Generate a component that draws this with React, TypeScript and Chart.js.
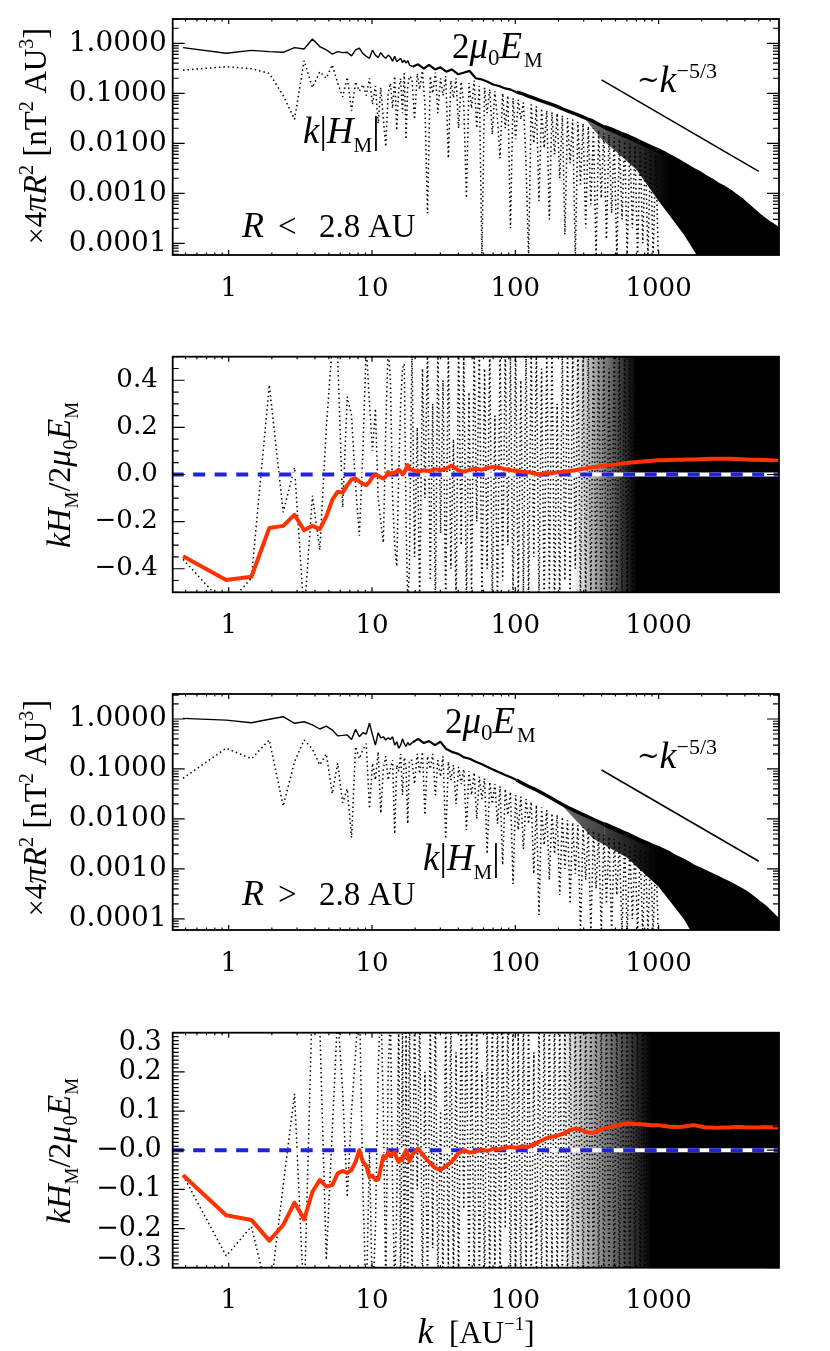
import React, { useEffect, useRef } from "react";
import { Chart, registerables } from "chart.js";
Chart.register(...registerables);

// ---------- shared k grids ----------
const K_LOW = [0.48, 0.96, 1.44, 1.92, 2.40, 2.88, 3.36, 3.84, 4.32, 4.80, 5.28, 5.76, 6.24, 6.72, 7.20, 7.68, 8.16, 8.64, 9.12, 9.60, 10.08, 10.56, 11.04, 11.52, 12.00, 12.48, 12.96, 13.44, 13.92, 14.40, 14.88, 15.36, 15.84, 16.32, 16.80, 17.28, 17.76, 18.24];
const K_HIGH = [19.2, 21, 23, 25, 27.5, 30, 33, 36, 40, 44, 48, 53, 58, 64, 70, 77, 85, 93, 102, 112, 123, 135, 148, 163, 179, 197, 216, 238, 261, 287, 316, 347, 382, 420, 462, 508, 559, 615, 676, 744, 818, 900, 990, 1089, 1198, 1318, 1450, 1595, 1754, 1930, 2123, 2335, 2569, 2825, 3108, 3419, 3761, 4137, 4550, 5005, 5506, 6057, 6662, 7000];
const K_MID = [19.0, 19.8, 20.7, 21.5, 22.5, 23.4, 24.4, 25.5, 26.5, 27.7, 28.8, 30.1, 31.3, 32.7, 34.1, 35.5, 37.0, 38.6, 40.2, 41.9, 43.7, 45.6, 47.5, 49.5, 51.6, 53.8, 56.1, 58.5, 61.0, 63.6, 66.3, 69.1, 72.0, 75.1, 78.3, 81.6, 85.1, 88.7, 92.5, 96.4, 100.5, 104.8, 109.3, 113.9, 118.8, 123.8, 129.1, 134.6, 140.3, 146.3, 152.5, 159.0, 165.8, 172.8, 180.2, 187.9, 195.9, 204.2, 212.9, 221.9, 231.4, 241.2, 251.5, 262.2, 273.4, 285.0, 297.1, 309.8, 323.0, 336.7, 351.0, 366.0, 381.6, 397.8, 414.8, 432.4, 450.8, 470.0, 490.0, 510.9, 532.6, 555.3, 578.9, 603.6, 629.3, 656.0, 684.0, 713.1, 743.4, 775.1, 808.0, 842.4, 878.3, 915.7, 954.7, 995.3];
const K_REF = [400, 5000];
const K_ZERO = [0.4, 7000];
const ZERO = [0, 0];

const K_MIN = 0.4066;
const K_MAX = 6920;
const X_TICKS = [1, 10, 100, 1000];
const X_LABELS = ["1", "10", "100", "1000"];

// ---------- panel 1 (R < 2.8 AU spectra) ----------
const E1_LOW = [0.82, 0.63, 0.72, 0.68, 0.66, 0.82, 0.77, 1.22, 0.86, 0.74, 0.61, 0.68, 0.65, 0.66, 0.56, 0.74, 0.80, 0.62, 0.55, 0.50, 0.73, 0.58, 0.52, 0.65, 0.55, 0.50, 0.58, 0.53, 0.44, 0.55, 0.43, 0.46, 0.50, 0.41, 0.46, 0.40, 0.45, 0.37];
const E1_HIGH = [0.34, 0.38, 0.31, 0.37, 0.30, 0.33, 0.27, 0.30, 0.24, 0.26, 0.28, 0.20, 0.19, 0.17, 0.15, 0.14, 0.125, 0.118, 0.105, 0.098, 0.088, 0.080, 0.072, 0.066, 0.060, 0.054, 0.048, 0.043, 0.039, 0.035, 0.031, 0.028, 0.024, 0.021, 0.019, 0.017, 0.015, 0.0135, 0.012, 0.0105, 0.0092, 0.0081, 0.0072, 0.0063, 0.0054, 0.0047, 0.0040, 0.0034, 0.0029, 0.0025, 0.0021, 0.0018, 0.0015, 0.0013, 0.0011, 0.00090, 0.00074, 0.00058, 0.00046, 0.00036, 0.00029, 0.00024, 0.00020, 0.00018];
const H1_LOW = [0.29, 0.34, 0.31, 0.25, 0.09, 0.03, 0.45, 0.13, 0.27, 0.20, 0.37, 0.16, 0.085, 0.21, 0.045, 0.17, 0.11, 0.15, 0.09, 0.20, 0.06, 0.14, 0.025, 0.13, 0.03, 0.0085, 0.10, 0.16, 0.05, 0.22, 0.018, 0.12, 0.20, 0.04, 0.25, 0.012, 0.14, 0.22];
const H1_MID = [0.20, 0.03, 0.25, 0.12, 0.28, 0.06, 0.0004, 0.22, 0.10, 0.26,
  0.04, 0.20, 0.09, 0.22, 0.005, 0.18, 0.08, 0.20, 0.02, 0.17,
  0.06, 0.0008, 0.16, 0.05, 0.18, 0.02, 0.14, 0.00005, 0.13, 0.04,
  0.12, 0.015, 0.11, 0.03, 0.005, 0.10, 0.02, 0.09, 0.0002, 0.08,
  0.012, 0.075, 0.03, 0.065, 0.004, 0.00005, 0.06, 0.01, 0.055, 0.0007,
  0.05, 0.008, 0.045, 0.0003, 0.042, 0.006, 0.04, 0.002, 0.036, 0.00015,
  0.032, 0.004, 0.030, 0.00005, 0.027, 0.0015, 0.025, 0.0002, 0.022, 0.0006,
  0.020, 0.00005, 0.018, 0.0008, 0.016, 0.00012, 0.015, 0.0004, 0.013, 0.00005,
  0.012, 0.0003, 0.011, 0.00005, 0.010, 0.0002, 0.009, 0.00005, 0.008, 0.0001,
  0.0075, 0.00005, 0.0068, 0.00005, 0.006, 0.00005];
const K_FILL1 = [300, 400, 500, 700, 1000, 1500, 2000, 7000];
const FILL1_LO = [0.033, 0.012, 0.007, 0.003, 0.0007, 0.00015, 0.00004, 0.00004];
const REF1 = [0.185, 0.00275];

// ---------- panel 2 (R < 2.8 AU ratio) ----------
const R2_LOW = [-0.347, -0.448, -0.434, -0.227, -0.218, -0.171, -0.237, -0.218, -0.232, -0.178, -0.108, -0.073, -0.077, -0.045, -0.021, -0.017, -0.030, -0.040, -0.045, -0.031, -0.010, 0.000, -0.005, -0.012, -0.017, -0.008, 0.010, 0.002, 0.008, 0.005, 0.015, 0.020, 0.012, 0.000, 0.008, 0.025, 0.040, 0.022];
const R2_HIGH = [0.020, 0.012, 0.018, 0.015, 0.022, 0.018, 0.025, 0.038, 0.018, 0.012, 0.020, 0.024, 0.020, 0.028, 0.032, 0.030, 0.022, 0.018, 0.016, 0.012, 0.010, 0.004, 0.000, 0.006, 0.004, 0.010, 0.012, 0.015, 0.018, 0.022, 0.027, 0.031, 0.034, 0.037, 0.040, 0.043, 0.047, 0.050, 0.052, 0.054, 0.056, 0.058, 0.060, 0.061, 0.062, 0.063, 0.063, 0.064, 0.064, 0.065, 0.066, 0.067, 0.067, 0.067, 0.067, 0.066, 0.065, 0.064, 0.063, 0.063, 0.062, 0.060, 0.058, 0.057];
const D2_LOW = [-0.36, -0.56, -0.44, 0.38, -0.16, 0.03, -0.60, -0.09, -0.32, 0.20, 0.55, 0.50, -0.14, 0.33, 0.25, -0.05, -0.26, 0.10, 0.55, 0.30, 0.10, 0.28, -0.10, -0.20, -0.29, 0.20, 0.55, 0.40, -0.10, -0.30, -0.39, 0.00, 0.30, 0.45, 0.47, -0.20, -0.55, -0.40];
const D2_MID = [0.55, -0.35, 0.2, -0.55, 0.45, -0.1, 0.55, -0.45, 0.3, -0.55,
  0.55, -0.25, 0.4, -0.55, 0.55, -0.4, 0.15, -0.55, 0.55, -0.3,
  0.5, -0.55, 0.35, -0.5, 0.55, -0.2, 0.55, -0.55, 0.45, -0.4,
  0.55, -0.55, 0.25, -0.55, 0.55, -0.45, 0.55, -0.3, 0.5, -0.55,
  0.55, -0.55, 0.4, -0.5, 0.55, -0.55, 0.55, -0.35, 0.55, -0.55,
  0.45, -0.55, 0.55, -0.5, 0.55, -0.55, 0.3, -0.55, 0.55, -0.45,
  0.55, -0.55, 0.55, -0.4, 0.55, -0.55, 0.5, -0.55, 0.55, -0.55,
  0.55, -0.5, 0.55, -0.55, 0.55, -0.55, 0.45, -0.55, 0.55, -0.55,
  0.55, -0.55, 0.55, -0.5, 0.55, -0.55, 0.55, -0.55, 0.55, -0.55,
  0.55, -0.55, 0.55, -0.55, 0.55, -0.55];
const K_FILL2 = [250, 7000];
const FILL2_UP = [0.55, 0.55];
const FILL2_LO = [-0.55, -0.55];

// ---------- panel 3 (R > 2.8 AU spectra) ----------
const E3_LOW = [1.03, 0.95, 0.84, 0.99, 1.11, 0.82, 0.88, 0.76, 0.63, 0.72, 0.60, 0.46, 0.47, 0.48, 0.39, 0.62, 0.44, 0.53, 0.50, 0.82, 0.48, 0.30, 0.53, 0.42, 0.44, 0.38, 0.42, 0.39, 0.44, 0.30, 0.35, 0.26, 0.30, 0.40, 0.32, 0.28, 0.34, 0.30];
const E3_HIGH = [0.34, 0.40, 0.33, 0.36, 0.30, 0.35, 0.25, 0.22, 0.20, 0.17, 0.16, 0.14, 0.125, 0.11, 0.097, 0.086, 0.076, 0.068, 0.060, 0.052, 0.045, 0.040, 0.035, 0.030, 0.026, 0.022, 0.019, 0.0165, 0.0145, 0.0128, 0.0113, 0.0100, 0.0088, 0.0078, 0.0069, 0.0061, 0.0054, 0.0048, 0.0042, 0.0037, 0.0033, 0.0029, 0.0026, 0.0023, 0.0020, 0.0017, 0.0015, 0.0013, 0.0011, 0.00098, 0.00086, 0.00075, 0.00066, 0.00058, 0.00051, 0.00044, 0.00038, 0.00032, 0.00026, 0.00021, 0.00017, 0.00013, 0.00010, 0.000085];
const H3_LOW = [0.065, 0.26, 0.16, 0.38, 0.018, 0.14, 0.38, 0.25, 0.12, 0.20, 0.032, 0.13, 0.021, 0.04, 0.0042, 0.28, 0.16, 0.24, 0.32, 0.016, 0.13, 0.06, 0.22, 0.013, 0.10, 0.18, 0.06, 0.10, 0.15, 0.005, 0.12, 0.09, 0.20, 0.03, 0.17, 0.11, 0.008, 0.15];
const H3_MID = [0.15, 0.05, 0.2, 0.08, 0.22, 0.012, 0.18, 0.1, 0.2, 0.03,
  0.15, 0.07, 0.18, 0.004, 0.14, 0.06, 0.12, 0.02, 0.11, 0.05,
  0.1, 0.006, 0.09, 0.03, 0.085, 0.01, 0.07, 0.025, 0.065, 0.002,
  0.055, 0.02, 0.05, 0.008, 0.045, 0.0012, 0.04, 0.012, 0.035, 0.0005,
  0.03, 0.006, 0.028, 0.0025, 0.025, 0.008, 0.022, 0.0008, 0.019, 0.00012,
  0.017, 0.003, 0.015, 0.0006, 0.013, 0.002, 0.012, 0.0003, 0.011, 0.001,
  0.0095, 0.0002, 0.0085, 0.0008, 0.0075, 0.00005, 0.007, 0.0006, 0.0063, 0.00005,
  0.0058, 0.0004, 0.0052, 0.00005, 0.0048, 0.0002, 0.0044, 0.00005, 0.004, 0.0003,
  0.0036, 0.00005, 0.0033, 0.00005, 0.003, 0.0001, 0.0028, 0.00005, 0.0025, 0.00005,
  0.0023, 0.00005, 0.0021, 0.00005, 0.0019, 0.00005];
const K_FILL3 = [200, 350, 600, 1000, 1500, 1800, 7000];
const FILL3_LO = [0.022, 0.004, 0.0017, 0.00044, 0.0001, 0.00004, 0.00004];
const REF3 = [0.0955, 0.00142];

// ---------- panel 4 (R > 2.8 AU ratio) ----------
const R4_LOW = [-0.064, -0.166, -0.178, -0.231, -0.191, -0.134, -0.177, -0.106, -0.076, -0.093, -0.089, -0.059, -0.053, -0.058, -0.050, -0.030, 0.000, -0.030, -0.040, -0.068, -0.065, -0.076, -0.075, -0.045, -0.015, -0.020, -0.005, -0.015, -0.010, -0.005, -0.020, -0.030, -0.022, -0.025, -0.010, 0.000, -0.012, -0.028];
const R4_HIGH = [-0.010, 0.004, -0.015, -0.030, -0.045, -0.050, -0.040, -0.030, -0.008, 0.000, -0.006, -0.004, 0.002, -0.002, 0.004, 0.002, 0.006, 0.008, 0.006, 0.010, 0.008, 0.015, 0.022, 0.030, 0.034, 0.037, 0.042, 0.050, 0.055, 0.052, 0.046, 0.044, 0.050, 0.056, 0.059, 0.063, 0.066, 0.068, 0.067, 0.066, 0.065, 0.064, 0.064, 0.062, 0.060, 0.059, 0.060, 0.062, 0.064, 0.061, 0.058, 0.058, 0.057, 0.058, 0.058, 0.059, 0.059, 0.058, 0.058, 0.058, 0.059, 0.058, 0.058, 0.058];
const D4_LOW = [-0.064, -0.27, -0.195, -0.385, -0.09, 0.144, -0.40, 0.40, 0.32, -0.28, 0.05, 0.35, 0.15, -0.12, 0.10, 0.25, 0.40, -0.10, -0.40, 0.00, -0.40, -0.20, 0.20, 0.40, 0.10, -0.35, 0.20, 0.35, -0.10, -0.35, -0.15, 0.35, -0.35, 0.35, -0.40, 0.30, -0.35, 0.40];
const D4_MID = [-0.35, 0.35, -0.1, 0.35, -0.35, 0.2, -0.35, 0.35, -0.25, 0.35,
  -0.35, 0.1, -0.35, 0.35, -0.3, 0.35, -0.35, 0.25, -0.35, 0.35,
  -0.15, 0.35, -0.35, 0.3, -0.35, 0.35, -0.35, 0.2, -0.35, 0.35,
  -0.35, 0.35, -0.3, 0.35, -0.35, 0.35, -0.2, 0.35, -0.35, 0.35,
  -0.35, 0.3, -0.35, 0.35, -0.35, 0.35, -0.35, 0.25, -0.35, 0.35,
  -0.35, 0.35, -0.35, 0.35, -0.3, 0.35, -0.35, 0.35, -0.35, 0.35,
  -0.35, 0.35, -0.35, 0.35, -0.35, 0.3, -0.35, 0.35, -0.35, 0.35,
  -0.35, 0.35, -0.35, 0.35, -0.35, 0.35, -0.35, 0.35, -0.35, 0.35,
  -0.35, 0.35, -0.35, 0.35, -0.35, 0.35, -0.35, 0.35, -0.35, 0.35,
  -0.35, 0.35, -0.35, 0.35, -0.35, 0.35];
const K_FILL4 = [200, 7000];
const FILL4_UP = [0.35, 0.35];
const FILL4_LO = [-0.35, -0.35];

// ---------- tick labels ----------
const LOG_Y_TICKS = [1, 0.1, 0.01, 0.001, 0.0001];
const LOG_Y_LABELS = ["1.0000", "0.1000", "0.0100", "0.0010", "0.0001"];
const R2_Y_TICKS = [0.4, 0.2, 0, -0.2, -0.4];
const R2_Y_LABELS = ["0.4", "0.2", "0.0", "\u22120.2", "\u22120.4"];
const R4_Y_TICKS = [0.3, 0.2, 0.1, 0, -0.1, -0.2, -0.3];
const R4_Y_LABELS = ["0.3", "0.2", "0.1", "\u22120.0", "\u22120.1", "\u22120.2", "\u22120.3"];

// ---------- styling ----------
const DV = '"DejaVu Serif", serif';
const LS = '"Liberation Serif", "Times New Roman", serif';
const RED = "#ff3300";
const BLUE = "#2222dd";
const fnt = (s: number, it = false, fam = DV) => `${it ? "italic " : ""}${s}px ${fam}`;

type Seg = [string, string, number?];

function richWidth(ctx: CanvasRenderingContext2D, segs: Seg[]) {
  let w = 0;
  for (const s of segs) { ctx.font = s[1]; w += ctx.measureText(s[0]).width; }
  return w;
}
function rich(ctx: CanvasRenderingContext2D, segs: Seg[], x: number, y: number, align = "left") {
  ctx.textAlign = "left";
  ctx.textBaseline = "alphabetic";
  let cx = x;
  if (align === "center") cx -= richWidth(ctx, segs) / 2;
  for (const [t, f, dy] of segs) {
    ctx.font = f;
    ctx.fillText(t, cx, y + (dy || 0));
    cx += ctx.measureText(t).width;
  }
}
function richV(ctx: CanvasRenderingContext2D, segs: Seg[], x: number, y: number) {
  ctx.save();
  ctx.translate(x, y);
  ctx.rotate(-Math.PI / 2);
  rich(ctx, segs, 0, 0, "center");
  ctx.restore();
}

const SPEC_TITLE: Seg[] = [["\u00d7", fnt(30, false, LS)], ["4", fnt(31, false, LS)], ["\u03c0", fnt(33, true, LS)], ["R", fnt(33, true, LS)], ["2", fnt(20, false, LS), -13], [" [", fnt(33, false, LS)], ["nT", fnt(31, false, LS)], ["2", fnt(20, false, LS), -13], [" AU", fnt(31, false, LS)], ["3", fnt(20, false, LS), -13], ["]", fnt(33, false, LS)]];
const RATIO_TITLE: Seg[] = [["k", fnt(34, true, LS)], ["H", fnt(34, true, LS)], ["M", fnt(19, false, LS), 8], ["/", fnt(32, false, LS)], ["2", fnt(32, false, LS)], ["\u03bc", fnt(34, true, LS)], ["0", fnt(20, false, LS), 7], ["E", fnt(34, true, LS)], ["M", fnt(19, false, LS), 8]];
const EM_LABEL: Seg[] = [["2", fnt(35, false, LS)], ["\u03bc", fnt(37, true, LS)], ["0", fnt(23, false, LS), 7], ["E", fnt(37, true, LS)], [" ", fnt(6)], ["M", fnt(21, false, LS), 9]];
const SLOPE_LABEL: Seg[] = [["~", fnt(27, false, DV), -3], ["k", fnt(38, true, LS)], ["\u22125/3", fnt(22, false, LS), -14]];
const HM_LABEL: Seg[] = [["k", fnt(37, true, LS)], ["|", fnt(37, false, LS)], ["H", fnt(37, true, LS)], ["M", fnt(21, false, LS), 9], ["|", fnt(37, false, LS)]];
const X_TITLE: Seg[] = [["k", fnt(36, true, LS)], ["  [", fnt(31, false, LS)], ["AU", fnt(31, false, LS)], ["\u22121", fnt(19, false, LS), -13], ["]", fnt(31, false, LS)]];

function radiusLabel(ctx: CanvasRenderingContext2D, sym: string, y: number) {
  ctx.textAlign = "left";
  ctx.textBaseline = "alphabetic";
  ctx.font = fnt(36, true, LS); ctx.fillText("R", 242, y);
  ctx.font = fnt(33, false, LS); ctx.fillText(sym, 278, y);
  ctx.fillText("2.8", 319, y);
  ctx.fillText("AU", 368, y);
}

function logTicks(min: number, max: number) {
  const out: [number, boolean][] = [];
  for (let e = -6; e <= 4; e++) for (let m = 1; m <= 9; m++) {
    const v = m * Math.pow(10, e);
    if (v >= min && v <= max) out.push([v, m === 1]);
  }
  return out;
}
function linTicks(step: number, every: number, min: number, max: number) {
  const out: [number, boolean][] = [];
  for (let i = Math.ceil(min / step - 1e-6); i <= Math.floor(max / step + 1e-6); i++) out.push([i * step, i % every === 0]);
  return out;
}

// horizontal fade-in for the dense (unresolvable) high-k region
function fade(kStart: number, kEnd: number, a0: number) {
  return (c: any) => {
    const chart = c.chart;
    const area = chart.chartArea;
    const xs = chart.scales && chart.scales.x;
    if (!area || !xs) return "#000";
    const g = chart.ctx.createLinearGradient(xs.getPixelForValue(kStart), 0, xs.getPixelForValue(kEnd), 0);
    g.addColorStop(0, `rgba(0,0,0,${a0})`);
    g.addColorStop(1, "rgba(0,0,0,1)");
    return g;
  };
}

const pts = (xs: number[], ys: number[]) => xs.map((x, i) => ({ x, y: ys[i] }));
const base = (d: any) => ({ clip: 0, pointRadius: 0, borderJoinStyle: "bevel", tension: 0, ...d });

function spectrumSets(eLow: number[], eHigh: number[], hLow: number[], hMid: number[], kFill: number[], fillLo: number[], ref: number[], f0: number, f1: number) {
  const kE = [...K_LOW, ...K_HIGH];
  return [
    { data: pts(K_REF, ref), borderColor: "#000", borderWidth: 1.6 },
    {
      data: pts(kE, [...eLow, ...eHigh]), borderColor: "#000", borderWidth: 1.4,
      segment: { borderWidth: (c: any) => { const k = kE[c.p0DataIndex]; return k < 19 ? 1.4 : k < 100 ? 2.2 : k < 400 ? 3.4 : 4.6; } },
    },
    { data: pts([...K_LOW, ...K_MID], [...hLow, ...hMid]), borderColor: "#000", borderWidth: 1.5, borderDash: [1.5, 3] },
    { data: pts(kFill, fillLo), borderColor: "rgba(0,0,0,0)", borderWidth: 0, fill: { target: 1 }, backgroundColor: fade(f0, f1, 0.55) },
  ].map(base);
}
function ratioSets(rLow: number[], rHigh: number[], dLow: number[], dMid: number[], kFill: number[], up: number[], lo: number[], f0: number, f1: number) {
  return [
    { data: pts([...K_LOW, ...K_HIGH], [...rLow, ...rHigh]), borderColor: RED, borderWidth: 4, borderJoinStyle: "round" },
    { data: pts(K_ZERO, ZERO), borderColor: BLUE, borderWidth: 4, borderDash: [12, 9.5] },
    { data: pts(K_ZERO, ZERO), borderColor: "#fff", borderWidth: 4 },
    { data: pts([...K_LOW, ...K_MID], [...dLow, ...dMid]), borderColor: "#000", borderWidth: 1.5, borderDash: [1.5, 3] },
    { data: pts(kFill, lo), borderColor: "rgba(0,0,0,0)", borderWidth: 0, fill: "+1", backgroundColor: fade(f0, f1, 0) },
    { data: pts(kFill, up), borderColor: "rgba(0,0,0,0)", borderWidth: 0 },
  ].map(base);
}

interface Spec {
  top: number; height: number; pad: any;
  y: any; yTicks: [number, boolean][]; yVals: number[]; yLabels: string[];
  yFont: string; yGap: number; datasets: any[];
  text: (ctx: CanvasRenderingContext2D) => void;
}

const SPECS: Spec[] = [
  {
    top: 0, height: 320, pad: { left: 172.7, right: 51, top: 19, bottom: 65 },
    y: { type: "logarithmic", min: 5.83e-5, max: 3.06 },
    yTicks: logTicks(5.83e-5, 3.06), yVals: LOG_Y_TICKS, yLabels: LOG_Y_LABELS, yFont: fnt(28), yGap: 6,
    datasets: spectrumSets(E1_LOW, E1_HIGH, H1_LOW, H1_MID, K_FILL1, FILL1_LO, REF1, 300, 1200),
    text: (ctx) => {
      richV(ctx, SPEC_TITLE, 46, 136);
      rich(ctx, EM_LABEL, 452, 58);
      rich(ctx, SLOPE_LABEL, 637, 92);
      rich(ctx, HM_LABEL, 303, 143);
      radiusLabel(ctx, "<", 237);
    },
  },
  {
    top: 320, height: 340, pad: { left: 172.7, right: 51, top: 36.7, bottom: 67.7 },
    y: { type: "linear", min: -0.5, max: 0.5 },
    yTicks: linTicks(0.05, 4, -0.5, 0.5), yVals: R2_Y_TICKS, yLabels: R2_Y_LABELS, yFont: fnt(26), yGap: 15,
    datasets: ratioSets(R2_LOW, R2_HIGH, D2_LOW, D2_MID, K_FILL2, FILL2_UP, FILL2_LO, 250, 700),
    text: (ctx) => { richV(ctx, RATIO_TITLE, 70, 155); },
  },
  {
    top: 660, height: 340, pad: { left: 172.7, right: 51, top: 34, bottom: 70 },
    y: { type: "logarithmic", min: 6.0e-5, max: 3.16 },
    yTicks: logTicks(6.0e-5, 3.16), yVals: LOG_Y_TICKS, yLabels: LOG_Y_LABELS, yFont: fnt(28), yGap: 6,
    datasets: spectrumSets(E3_LOW, E3_HIGH, H3_LOW, H3_MID, K_FILL3, FILL3_LO, REF3, 200, 1000),
    text: (ctx) => {
      richV(ctx, SPEC_TITLE, 46, 148);
      rich(ctx, EM_LABEL, 445, 73);
      rich(ctx, SLOPE_LABEL, 637, 108);
      rich(ctx, HM_LABEL, 423, 210);
      radiusLabel(ctx, ">", 245);
    },
  },
  {
    top: 1000, height: 351, pad: { left: 172.7, right: 51, top: 32.7, bottom: 83.3 },
    y: { type: "linear", min: -0.3, max: 0.3 },
    yTicks: linTicks(0.01, 10, -0.3, 0.3), yVals: R4_Y_TICKS, yLabels: R4_Y_LABELS, yFont: fnt(27), yGap: 11,
    datasets: ratioSets(R4_LOW, R4_HIGH, D4_LOW, D4_MID, K_FILL4, FILL4_UP, FILL4_LO, 200, 900),
    text: (ctx) => {
      richV(ctx, RATIO_TITLE, 70, 151);
      rich(ctx, X_TITLE, 476, 343, "center");
    },
  },
];

function decorate(chart: any, spec: Spec) {
  const { ctx, chartArea: a } = chart;
  const xs = chart.scales.x, ys = chart.scales.y;
  ctx.save();
  ctx.strokeStyle = "#000";
  ctx.lineWidth = 1.2;
  ctx.beginPath();
  for (const [v, maj] of logTicks(K_MIN, K_MAX)) {
    const p = xs.getPixelForValue(v);
    const L = maj ? 5 : 2.5;
    ctx.moveTo(p, a.bottom); ctx.lineTo(p, a.bottom - L);
    ctx.moveTo(p, a.top); ctx.lineTo(p, a.top + L);
  }
  for (const [v, maj] of spec.yTicks) {
    const p = ys.getPixelForValue(v);
    const L = maj ? 12 : 6;
    ctx.moveTo(a.left, p); ctx.lineTo(a.left + L, p);
    ctx.moveTo(a.right, p); ctx.lineTo(a.right - L, p);
  }
  ctx.stroke();
  ctx.lineWidth = 1.8;
  ctx.strokeRect(a.left, a.top, a.right - a.left, a.bottom - a.top);

  ctx.fillStyle = "#000";
  ctx.font = fnt(26);
  ctx.textAlign = "center";
  ctx.textBaseline = "middle";
  X_TICKS.forEach((v, i) => ctx.fillText(X_LABELS[i], xs.getPixelForValue(v), a.bottom + 34));
  ctx.font = spec.yFont;
  ctx.textAlign = "right";
  spec.yVals.forEach((v, i) => {
    let p = ys.getPixelForValue(v);
    p = Math.min(Math.max(p, a.top + 10), a.bottom - 9);
    ctx.fillText(spec.yLabels[i], a.left - spec.yGap, p);
  });
  spec.text(ctx);
  ctx.restore();
}

function Panel({ spec }: { spec: Spec }) {
  const ref = useRef<HTMLCanvasElement>(null);
  useEffect(() => {
    const chart = new Chart(ref.current as HTMLCanvasElement, {
      type: "line",
      data: { datasets: spec.datasets },
      options: {
        animation: false,
        responsive: false,
        devicePixelRatio: 1,
        events: [],
        layout: { padding: spec.pad },
        elements: { point: { radius: 0 }, line: { tension: 0 } },
        plugins: { legend: { display: false }, tooltip: { enabled: false } },
        scales: {
          x: { type: "logarithmic", min: K_MIN, max: K_MAX, display: false },
          y: { ...spec.y, display: false },
        },
      } as any,
      plugins: [{ id: "decor", afterDraw: (c: any) => decorate(c, spec) }],
    } as any);
    return () => chart.destroy();
  }, [spec]);
  return (
    <canvas
      ref={ref}
      width={830}
      height={spec.height}
      style={{ position: "absolute", left: 0, top: spec.top, width: 830, height: spec.height }}
    />
  );
}

export default function App() {
  return (
    <div style={{ position: "absolute", left: 0, top: 0, width: 830, height: 1351, background: "#fff" }}>
      {SPECS.map((s, i) => <Panel key={i} spec={s} />)}
    </div>
  );
}
